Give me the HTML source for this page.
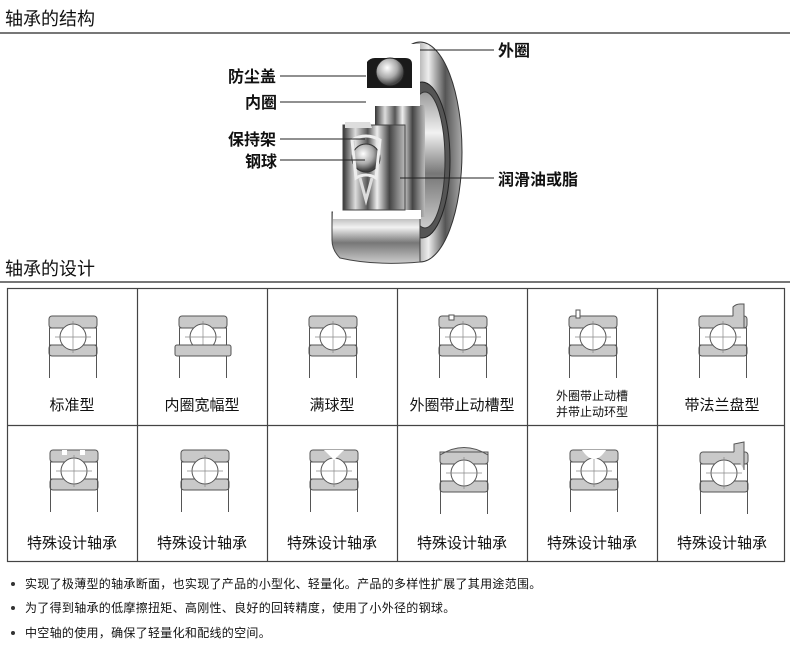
<!DOCTYPE html>
<html><head><meta charset="utf-8"><style>
html,body{margin:0;padding:0;background:#fff;width:790px;height:654px;overflow:hidden}
svg{display:block}
text{font-family:"Liberation Sans","Noto Sans CJK SC",sans-serif;fill:#111}
</style></head><body>
<svg width="790" height="654" viewBox="0 0 790 654" xmlns="http://www.w3.org/2000/svg">
<defs>
<linearGradient id="rg" x1="0" y1="0" x2="1" y2="0">
<stop offset="0" stop-color="#ddd"/><stop offset="0.4" stop-color="#888"/><stop offset="0.6" stop-color="#eee"/><stop offset="0.8" stop-color="#555"/><stop offset="1" stop-color="#aaa"/></linearGradient>
<linearGradient id="hg" x1="0" y1="0" x2="1" y2="0">
<stop offset="0" stop-color="#333"/><stop offset="0.2" stop-color="#ddd"/><stop offset="0.4" stop-color="#555"/><stop offset="0.55" stop-color="#eee"/><stop offset="0.75" stop-color="#444"/><stop offset="1" stop-color="#bbb"/></linearGradient>
<linearGradient id="vg" x1="0" y1="0" x2="0" y2="1">
<stop offset="0" stop-color="#999"/><stop offset="0.3" stop-color="#f2f2f2"/><stop offset="0.6" stop-color="#777"/><stop offset="1" stop-color="#ccc"/></linearGradient>
<radialGradient id="bg" cx="0.4" cy="0.35" r="0.6"><stop offset="0" stop-color="#fff"/><stop offset="0.6" stop-color="#aaa"/><stop offset="1" stop-color="#444"/></radialGradient>
<g id="ic">
<rect x="0" y="0" width="48" height="12" rx="3" fill="#c9c9c9" stroke="#555" stroke-width="1"/>
<rect x="0" y="29" width="48" height="11" rx="3" fill="#c9c9c9" stroke="#555" stroke-width="1"/>
<line x1="0" y1="12" x2="48" y2="12" stroke="#555"/><line x1="0" y1="29" x2="48" y2="29" stroke="#555"/>
<line x1="0.5" y1="12" x2="0.5" y2="62" stroke="#555"/><line x1="47.5" y1="12" x2="47.5" y2="62" stroke="#555"/>
<circle cx="24" cy="21" r="13" fill="#fff" stroke="#555"/>
<line x1="6" y1="21" x2="42" y2="21" stroke="#888" stroke-width="0.7"/>
<line x1="24" y1="5" x2="24" y2="37" stroke="#888" stroke-width="0.7"/>
</g>
</defs>

<text x="5" y="25" font-size="18">轴承的结构</text>
<rect x="0" y="32" width="790" height="2" fill="#777"/>

<g>
<ellipse cx="420" cy="152" rx="42" ry="110" fill="url(#rg)" stroke="#333"/>
<ellipse cx="422" cy="160" rx="28" ry="78" fill="#555" stroke="#222"/>
<ellipse cx="425" cy="160" rx="20" ry="68" fill="url(#vg)" stroke="#333"/>
<rect x="375" y="105" width="50" height="112" fill="url(#hg)"/>
<path d="M332 212 L420 212 L420 262 Q375 266 340 258 Q332 250 332 240 Z" fill="url(#vg)" stroke="#444"/>
<rect x="333" y="210" width="88" height="9" fill="#fff"/>
<path d="M362 44 L420 44 L420 106 L362 106 Z" fill="#fff"/>
<path d="M367 62 Q370 58 375 58 L405 58 Q412 58 412 64 L412 88 L367 88 Z" fill="#1a1a1a"/>
<circle cx="390" cy="72" r="14" fill="url(#bg)" stroke="#222"/>
<path d="M343 125 L405 125 L405 210 L343 210 Z" fill="url(#hg)" stroke="#444"/>
<path d="M345 122 L370 122 L372 128 L345 128 Z" fill="#ddd"/>
<circle cx="366" cy="158" r="14" fill="url(#bg)" stroke="#333"/>
<path d="M352 140 Q366 132 380 140 L376 178 Q366 172 356 178 Z" fill="none" stroke="#eee" stroke-width="3"/>
<path d="M360 178 L366 200 L372 178" fill="none" stroke="#ddd" stroke-width="3"/>
</g>
<g font-size="16" font-weight="bold">
<text x="498" y="56">外圈</text>
<text x="228" y="82">防尘盖</text>
<text x="245" y="108">内圈</text>
<text x="228" y="145">保持架</text>
<text x="245" y="167">钢球</text>
<text x="498" y="185">润滑油或脂</text>
</g>
<g stroke="#222" stroke-width="1">
<line x1="420" y1="50" x2="494" y2="50"/>
<line x1="280" y1="76" x2="366" y2="76"/>
<line x1="280" y1="102" x2="366" y2="102"/>
<line x1="280" y1="139" x2="365" y2="139"/>
<line x1="280" y1="160" x2="365" y2="160"/>
<line x1="400" y1="178" x2="494" y2="178"/>
</g>

<text x="5" y="275" font-size="18">轴承的设计</text>
<rect x="0" y="281" width="790" height="2" fill="#777"/>

<g stroke="#444" stroke-width="1.2" fill="none">
<rect x="7.5" y="288.5" width="777" height="273"/>
<line x1="7" y1="425.5" x2="785" y2="425.5"/>
<line x1="137.5" y1="288" x2="137.5" y2="562"/>
<line x1="267.5" y1="288" x2="267.5" y2="562"/>
<line x1="397.5" y1="288" x2="397.5" y2="562"/>
<line x1="527.5" y1="288" x2="527.5" y2="562"/>
<line x1="657.5" y1="288" x2="657.5" y2="562"/>
</g>
<use href="#ic" x="49" y="316"/>
<use href="#ic" x="179" y="316"/>
<rect x="175" y="345" width="56" height="11" rx="2" fill="#c9c9c9" stroke="#555"/>
<use href="#ic" x="309" y="316"/>
<use href="#ic" x="439" y="316"/>
<rect x="449" y="315" width="5" height="5" fill="#fff" stroke="#555"/>
<use href="#ic" x="569" y="316"/>
<rect x="576" y="310" width="4" height="8" fill="#fff" stroke="#555"/>
<use href="#ic" x="699" y="316"/>
<path d="M733 316 L733 307 Q736 304 740 304 L744 304 L744 328" fill="#c9c9c9" stroke="#555"/>

<use href="#ic" x="50" y="450"/>
<rect x="62" y="450" width="5" height="5" fill="#fff"/><rect x="80" y="450" width="5" height="5" fill="#fff"/>
<use href="#ic" x="181" y="450"/>
<use href="#ic" x="310" y="450"/>
<path d="M324 450 L334 460 L344 450 Z" fill="#fff"/>
<use href="#ic" x="440" y="452"/>
<path d="M440 455 Q464 440 488 455 L488 452 L440 452Z" fill="#c9c9c9" stroke="#555"/>
<use href="#ic" x="570" y="450"/>
<path d="M582 450 Q594 468 606 450 Z" fill="#fff"/>
<use href="#ic" x="700" y="452"/>
<path d="M734 452 L734 444 L744 442 L744 470" fill="#c9c9c9" stroke="#555"/>

<g font-size="15" text-anchor="middle">
<text x="72" y="410">标准型</text>
<text x="202" y="410">内圈宽幅型</text>
<text x="332" y="410">满球型</text>
<text x="462" y="410">外圈带止动槽型</text>
<text x="592" y="400" font-size="12">外圈带止动槽</text>
<text x="592" y="416" font-size="12">并带止动环型</text>
<text x="722" y="410">带法兰盘型</text>
<text x="72" y="548">特殊设计轴承</text>
<text x="202" y="548">特殊设计轴承</text>
<text x="332" y="548">特殊设计轴承</text>
<text x="462" y="548">特殊设计轴承</text>
<text x="592" y="548">特殊设计轴承</text>
<text x="722" y="548">特殊设计轴承</text>
</g>

<g font-size="12" letter-spacing="0.3">
<circle cx="13" cy="584" r="2" fill="#333"/><text x="25" y="588">实现了极薄型的轴承断面，也实现了产品的小型化、轻量化。产品的多样性扩展了其用途范围。</text>
<circle cx="13" cy="608" r="2" fill="#333"/><text x="25" y="612">为了得到轴承的低摩擦扭矩、高刚性、良好的回转精度，使用了小外径的钢球。</text>
<circle cx="13" cy="633" r="2" fill="#333"/><text x="25" y="637">中空轴的使用，确保了轻量化和配线的空间。</text>
</g>
</svg>
</body></html>
